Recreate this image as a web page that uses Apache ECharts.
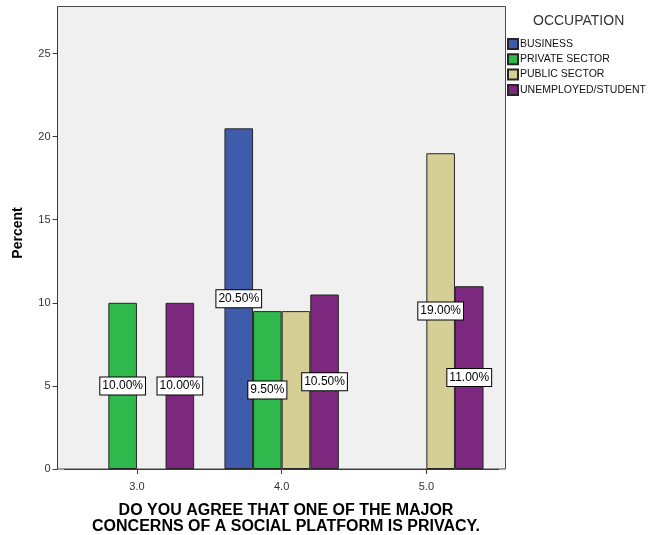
<!DOCTYPE html>
<html>
<head>
<meta charset="utf-8">
<script src="https://cdn.jsdelivr.net/npm/echarts@6/dist/echarts.min.js"></script>
<style>
  html, body { margin: 0; padding: 0; background: #fff; }
  #chart { width: 650px; height: 535px; }
</style>
</head>
<body>
<div id="chart"></div>
<script>
// Response categories on the agreement scale
const categories = ['3.0', '4.0', '5.0'];

// Percent of respondents per occupation group (null = no respondents)
const business = [null, 20.5, null];
const privateSector = [10.0, 9.5, null];
const publicSector = [null, 9.5, 19.0];
const unemployedStudent = [10.0, 10.5, 11.0];

const seriesNames = ['BUSINESS', 'PRIVATE SECTOR', 'PUBLIC SECTOR', 'UNEMPLOYED/STUDENT'];
const seriesColors = ['#3f5cab', '#2fb84b', '#d5cf96', '#7b287e'];
const seriesValues = [business, privateSector, publicSector, unemployedStudent];

// Labels left out where they would collide with a neighbouring bar's label
const hiddenLabels = [[], [], [1], []];

const yTicks = [0, 5, 10, 15, 20, 25];

const xTitle = 'DO YOU AGREE THAT ONE OF THE MAJOR\nCONCERNS OF A SOCIAL PLATFORM IS PRIVACY.';

const FONT = '"Liberation Sans", Arial, sans-serif';

const chart = echarts.init(document.getElementById('chart'), null, { renderer: 'canvas' });

const series = seriesValues.map((vals, s) => ({
  name: seriesNames[s],
  type: 'bar',
  barWidth: 28.6,
  barGap: '0%',
  itemStyle: { color: seriesColors[s], borderColor: '#262626', borderWidth: 1 },
  label: {
    show: true,
    position: 'inside',
    formatter: p => p.value.toFixed(2) + '%',
    fontFamily: FONT,
    fontSize: 12,
    color: '#000',
    backgroundColor: '#fff',
    borderColor: '#000',
    borderWidth: 1,
    padding: [3, 2, 2, 2]
  },
  data: vals.map((v, i) => v === null ? '-' :
    (hiddenLabels[s].includes(i) ? { value: v, label: { show: false } } : v))
}));

chart.setOption({
  animation: false,
  textStyle: { fontFamily: FONT },
  title: {
    text: 'OCCUPATION',
    left: 533,
    top: 14,
    padding: 0,
    textStyle: { fontFamily: FONT, fontSize: 14, fontWeight: 'normal', color: '#333' }
  },
  legend: {
    orient: 'vertical',
    left: 507,
    top: 38,
    padding: 0,
    itemWidth: 10,
    itemHeight: 10,
    itemGap: 3.3,
    icon: 'rect',
    textStyle: { fontFamily: FONT, fontSize: 10.5, color: '#111', lineHeight: 10, padding: [0, 0, 0, -3], overflow: 'none' },
    data: seriesNames
  },
  graphic: [{
    type: 'rect',
    z: -10,
    silent: true,
    shape: { x: 57.5, y: 6.5, width: 448, height: 462.5 },
    style: { fill: '#f0f0f0', stroke: '#4a4a4a', lineWidth: 1 }
  }, {
    type: 'text',
    silent: true,
    x: 286,
    y: 503,
    style: {
      text: xTitle,
      font: 'bold 16px ' + FONT,
      fill: '#000',
      align: 'center',
      verticalAlign: 'top',
      lineHeight: 16
    }
  }],
  grid: { left: 64.6, width: 434.1, top: 7, bottom: 66, outerBoundsMode: 'none' },
  xAxis: {
    type: 'category',
    data: categories,
    axisLine: { show: true, lineStyle: { color: '#3a3a3a', width: 1 } },
    axisTick: { show: true, alignWithLabel: true, length: 5, lineStyle: { color: '#3a3a3a' } },
    axisLabel: { fontFamily: FONT, fontSize: 11, color: '#333', margin: 12 }
  },
  yAxis: {
    type: 'value',
    min: 0,
    max: 27.8,
    interval: 5,
    offset: 7,
    axisLine: { show: true, lineStyle: { color: '#3a3a3a', width: 1 } },
    axisTick: { show: true, length: 5, customValues: yTicks, lineStyle: { color: '#3a3a3a' } },
    axisLabel: {
      fontFamily: FONT, fontSize: 11, color: '#333', margin: 7,
      customValues: yTicks
    },
    splitLine: { show: false },
    name: 'Percent',
    nameLocation: 'middle',
    nameGap: 32,
    nameTextStyle: { fontFamily: FONT, fontSize: 14, fontWeight: 'bold', color: '#000', padding: [0, 0, 0, 10] }
  },
  series: series
});
</script>
</body>
</html>
